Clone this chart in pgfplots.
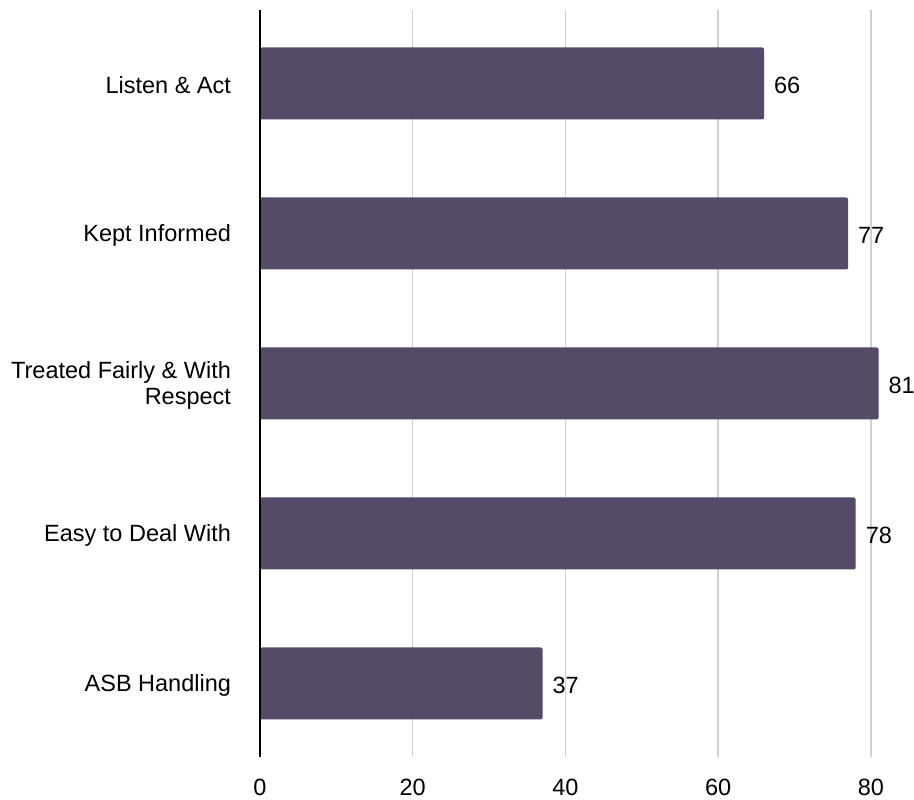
\documentclass[border=0pt]{standalone}
\usepackage{pgfplots}
\pgfplotsset{compat=1.18}
\usepackage{fontspec}
\setmainfont{Liberation Sans}
\definecolor{barc}{HTML}{554A68}
\definecolor{gridc}{HTML}{D0D0D0}
\newcommand{\lblfont}{\fontsize{23.5bp}{26bp}\selectfont}
\begin{document}
\lblfont
\begin{tikzpicture}
\useasboundingbox (0,0) rectangle (914bp,800bp);
\begin{axis}[
  at={(260bp,43bp)}, anchor=south west,
  scale only axis,
  width=611bp, height=747bp,
  xmin=0, xmax=80,
  ymin=-0.49, ymax=4.49,
  xbar, bar width=0.48,
  clip=false,
  axis line style={draw=none},
  xtick={0,20,40,60,80},
  ytick={0,1,2,3,4},
  yticklabels={ASB Handling,Easy to Deal With,{Treated Fairly \& With\\Respect},Kept Informed,Listen \& Act},
  yticklabel style={align=right, xshift=-21bp, yshift=-2bp, font=\lblfont},
  xticklabel style={yshift=-14bp, font=\lblfont},
  /pgf/number format/assume math mode=true,
  major tick length=0pt,
  xmajorgrids, grid style={gridc, line width=1.5bp},
  nodes near coords,
  every node near coord/.append style={anchor=west, xshift=2bp, yshift=-2bp, black, font=\lblfont},
]
\addplot[fill=barc, draw=none, rounded corners=2bp] coordinates {
(37,0) (78,1) (81,2) (77,3) (66,4)};
\draw[black, line width=2bp] (axis cs:0,-0.49) -- (axis cs:0,4.49);
\end{axis}
\end{tikzpicture}
\end{document}
